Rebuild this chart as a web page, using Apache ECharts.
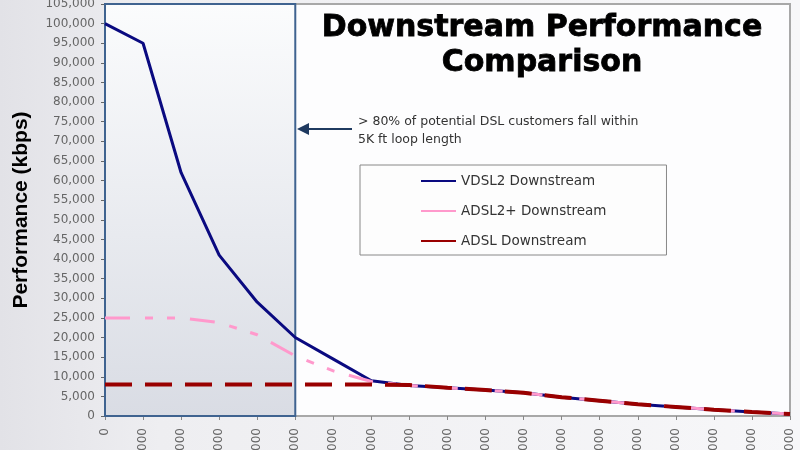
<!DOCTYPE html>
<html>
<head>
<meta charset="utf-8">
<title>Downstream Performance Comparison</title>
<script src="https://cdn.jsdelivr.net/npm/echarts@6/dist/echarts.min.js"></script>
<style>
  html, body { margin: 0; padding: 0; }
  #chart { width: 800px; height: 450px; }
</style>
</head>
<body>
<div id="chart"></div>
<script>
// loop length (ft)
const loopLength = ['0', '1,000', '2,000', '3,000', '4,000', '5,000', '6,000', '7,000', '8,000', '9,000',
  '10,000', '11,000', '12,000', '13,000', '14,000', '15,000', '16,000', '17,000', '18,000'];

// downstream rate (kbps)
const vdsl2 = [100000, 95000, 62000, 41000, 29000, 20000, 14500, 9000, 7800, 7200,
  6600, 5900, 4800, 3900, 3000, 2300, 1600, 1000, 500];
const adsl2plus = [25000, 25000, 25000, 23800, 20700, 15300, 11500, 8800, 7800, 7200,
  6600, 5900, 4800, 3900, 3000, 2300, 1600, 1000, 500];
const adsl = [8000, 8000, 8000, 8000, 8000, 8000, 8000, 8000, 7900, 7200,
  6600, 5900, 4800, 3900, 3000, 2300, 1600, 1000, 500];

const shadedFrom = '0';
const shadedTo = '5,000';

const chart = echarts.init(document.getElementById('chart'));

const options = {
  animation: false,
  backgroundColor: {
    type: 'linear', x: 0, y: 0, x2: 1, y2: 0,
    colorStops: [
      { offset: 0, color: '#e2e2e7' },
      { offset: 0.2, color: '#eeeef1' },
      { offset: 1, color: '#f7f7f9' }
    ]
  },
  title: {
    text: 'Downstream Performance\nComparison',
    left: 537,
    top: 6,
    textAlign: 'center',
    textStyle: {
      fontFamily: 'DejaVu Sans',
      fontWeight: 'bold',
      fontSize: 30,
      lineHeight: 35,
      color: '#000',
      textBorderColor: '#000',
      textBorderWidth: 0.8
    }
  },
  legend: {
    orient: 'vertical',
    left: 360,
    top: 165,
    padding: [9, 60, 7, 60],
    itemWidth: 35,
    itemHeight: 14,
    itemGap: 16,
    backgroundColor: '#fdfdfd',
    borderColor: '#888',
    borderWidth: 1,
    itemStyle: { opacity: 0 },
    lineStyle: { type: 'solid' },
    textStyle: { fontFamily: 'DejaVu Sans', fontSize: 13.5, color: '#333' },
    data: ['VDSL2 Downstream', 'ADSL2+ Downstream', 'ADSL Downstream']
  },
  grid: {
    left: 105,
    right: 10,
    top: 4,
    bottom: 34,
    outerBoundsMode: 'none',
    show: true,
    backgroundColor: '#fdfdfe',
    borderColor: '#a8a8a8',
    borderWidth: 2
  },
  xAxis: {
    type: 'category',
    boundaryGap: false,
    data: loopLength,
    axisLine: { lineStyle: { color: '#a8a8a8', width: 2 } },
    axisTick: { length: 4, lineStyle: { color: '#888' } },
    axisLabel: {
      rotate: 90,
      margin: 12,
      interval: 0,
      color: '#666',
      fontFamily: 'DejaVu Sans',
      fontSize: 12
    },
    splitLine: { show: false }
  },
  yAxis: {
    type: 'value',
    min: 0,
    max: 105000,
    interval: 5000,
    name: 'Performance (kbps)',
    nameLocation: 'middle',
    nameGap: 73,
    nameTextStyle: {
      fontFamily: 'Liberation Sans',
      fontWeight: 'bold',
      fontSize: 21,
      color: '#000'
    },
    axisLine: { show: true, lineStyle: { color: '#3f6390', width: 2 } },
    axisTick: { show: true, length: 4, lineStyle: { color: '#666' } },
    axisLabel: {
      margin: 10,
      color: '#666',
      fontFamily: 'DejaVu Sans',
      fontSize: 12,
      formatter: v => v.toLocaleString('en-US')
    },
    splitLine: { show: false }
  },
  series: [
    {
      name: 'shaded',
      type: 'line',
      data: [],
      z: 1,
      markArea: {
        silent: true,
        itemStyle: {
          color: {
            type: 'linear', x: 0, y: 0, x2: 0, y2: 1,
            colorStops: [
              { offset: 0, color: '#fbfcfd' },
              { offset: 1, color: '#d9dce4' }
            ]
          },
          borderColor: '#3f6390',
          borderWidth: 2
        },
        data: [[{ xAxis: shadedFrom }, { xAxis: shadedTo }]]
      }
    },
    {
      name: 'VDSL2 Downstream',
      type: 'line',
      z: 3,
      data: vdsl2,
      symbol: 'none',
      color: '#0a0a80',
      lineStyle: { color: '#0a0a80', width: 3 }
    },
    {
      name: 'ADSL2+ Downstream',
      type: 'line',
      z: 4,
      data: adsl2plus,
      symbol: 'none',
      color: '#ff99cc',
      lineStyle: { color: '#ff99cc', width: 3, type: [25, 15, 8, 14, 8, 15] }
    },
    {
      name: 'ADSL Downstream',
      type: 'line',
      z: 5,
      data: adsl,
      symbol: 'none',
      color: '#990000',
      lineStyle: { color: '#990000', width: 4, type: [27, 13] }
    }
  ],
  graphic: [
    {
      type: 'line',
      shape: { x1: 352, y1: 129, x2: 306, y2: 129 },
      style: { stroke: '#1f3a60', lineWidth: 2 }
    },
    {
      type: 'polygon',
      shape: { points: [[297, 129], [309, 123], [309, 135]] },
      style: { fill: '#1f3a60' }
    },
    {
      type: 'text',
      left: 358,
      top: 113,
      style: {
        text: '> 80% of potential DSL customers fall within\n5K ft loop length',
        fontFamily: 'DejaVu Sans',
        fontSize: 12.5,
        lineHeight: 18,
        fill: '#333'
      }
    }
  ]
};

chart.setOption(options);

window.addEventListener('resize', () => {
  chart.resize();
});
</script>
</body>
</html>
